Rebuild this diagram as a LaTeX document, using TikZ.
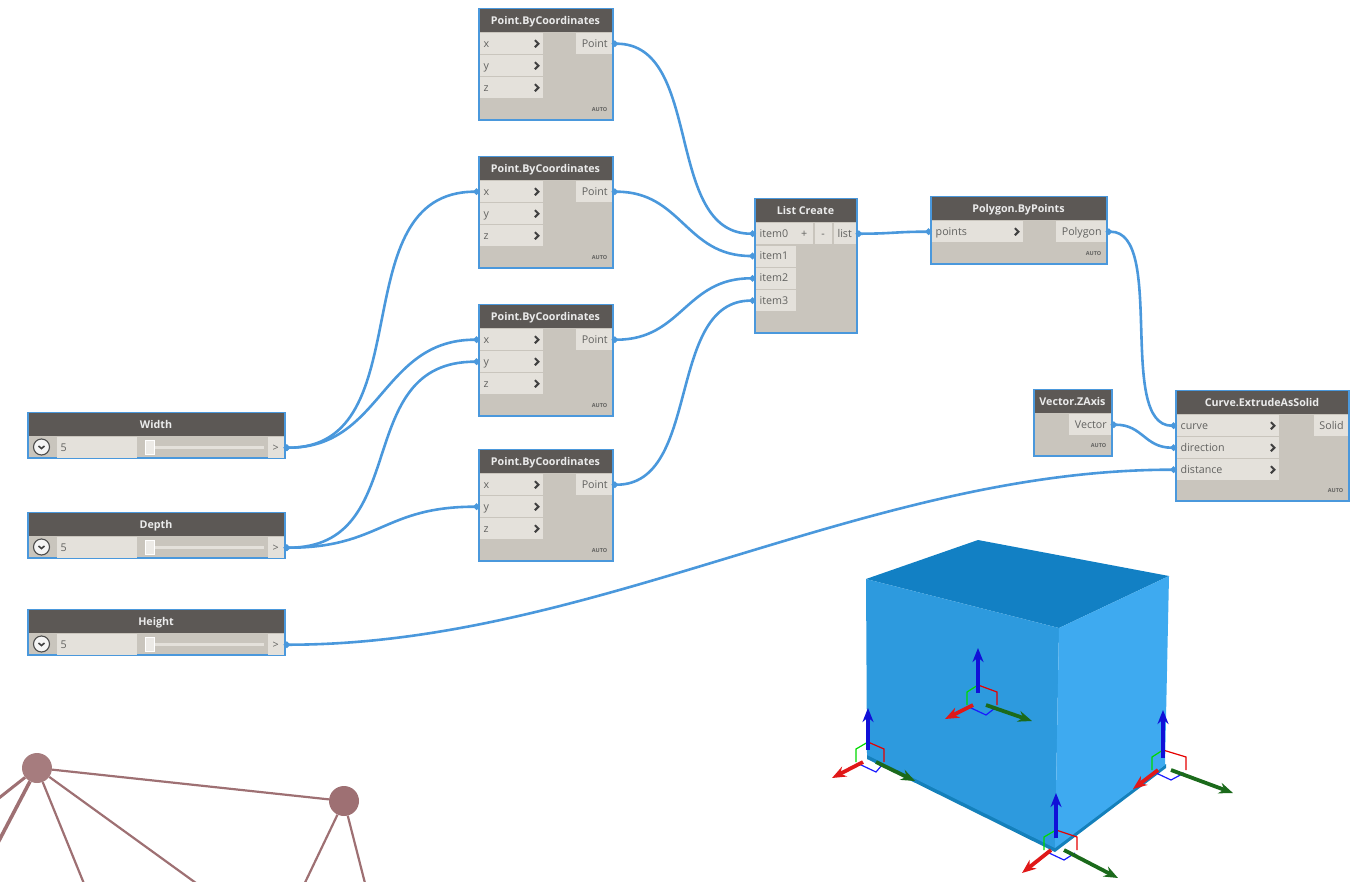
\documentclass[tikz,border=0pt]{standalone}
\usepackage{fontspec}
\setmainfont{Open Sans}
\usetikzlibrary{arrows.meta,calc}
\definecolor{wireblue}{HTML}{4A98DC}
\definecolor{headgray}{HTML}{5C5855}
\definecolor{bodygray}{HTML}{C9C5BD}
\definecolor{portgray}{HTML}{E4E1DB}
\definecolor{textgray}{HTML}{626260}
\definecolor{graphrose}{HTML}{9E7073}
\definecolor{roselight}{HTML}{A67C7E}
\definecolor{cubetop}{HTML}{1280C4}
\definecolor{cubeleft}{HTML}{2D9ADE}
\definecolor{cuberight}{HTML}{3EAAF0}
\definecolor{cubebase}{HTML}{1480BB}
\definecolor{gizmoblue}{HTML}{1010D8}
\definecolor{gizmored}{HTML}{E01818}
\definecolor{gizmogreen}{HTML}{1B6A1B}
\tikzset{
  block/.style={draw=wireblue, fill=bodygray, line width=2pt, anchor=north west, inner sep=0pt},
  head/.style={fill=headgray, text=white!92!black, anchor=north, inner sep=0pt, minimum height=23pt,
    text height=8pt, text depth=1pt, font=\fontsize{10.7}{12}\selectfont\bfseries},
  inport/.style={fill=portgray, text=textgray, anchor=north west, minimum height=21pt, inner ysep=0pt,
    inner xsep=4pt, text width=#1, text height=8pt, text depth=1pt, align=left, font=\fontsize{10.7}{12}\selectfont},
  outport/.style={inport=#1, align=right},
  smallport/.style={fill=portgray, text=textgray, minimum height=21pt, inner sep=0pt, anchor=north west,
    text height=8pt, text depth=1pt, font=\fontsize{10.7}{12}\selectfont},
  auto tag/.style={text=textgray, inner sep=0pt, font=\fontsize{5.5}{6}\selectfont\bfseries},
  chevline/.style={draw=black!75, line width=2pt},
  wire/.style={draw=wireblue, line width=2.6pt, {Circle[length=6pt]}-{Circle[length=6pt]}},
  axis/.style={line width=3.8pt, -{Stealth[length=14pt,width=11pt]}},
  hexline/.style={line width=1.2pt},
  vertex/.style={circle, fill=graphrose, inner sep=0pt, minimum size=30pt},
  edge/.style={draw=graphrose, line width=2.2pt}
}
\newcommand{\chev}[1]{\draw[chevline] ([shift={(-8,-3.5)}]#1.east) -- ++(3.5,3.5) -- ++(-3.5,3.5);}
\begin{document}
\begin{tikzpicture}[x=1pt, y=-1pt]
\clip (0,0) rectangle (1362,881);
\foreach \i/\y in {1/8,2/156,3/304,4/449}{
\node[block, minimum width=134pt, minimum height=111pt] (p\i) at (477.5,\y) {};
\node[head, minimum width=132pt] (p\i-h) at ([yshift=-1pt]p\i.north) {Point.ByCoordinates};
\node[inport=55pt] (p\i-x) at ([shift={(2,25)}]p\i.north west) {x};
\node[inport=55pt] (p\i-y) at ([shift={(2,47)}]p\i.north west) {y};
\node[inport=55pt] (p\i-z) at ([shift={(2,69)}]p\i.north west) {z};
\node[outport=28pt] (p\i-out) at ([shift={(98,25)}]p\i.north west) {Point};
\node[auto tag] (p\i-a) at ([shift={(-14,-11)}]p\i.south east) {AUTO};
\chev{p\i-x} \chev{p\i-y} \chev{p\i-z}
}
\node[block, minimum width=102pt, minimum height=134pt] (lc) at (753.5,198) {};
\node[head, minimum width=100pt] (lc-h) at ([yshift=-1pt]lc.north) {List Create};
\foreach \i in {0,1,2,3}{
\node[inport=32pt] (item\i) at ([shift={(2,25+22.3*\i)}]lc.north west) {item\i};
}
\node[smallport, minimum width=17pt] (lc-plus) at ([shift={(42,25)}]lc.north west) {+};
\node[smallport, minimum width=17pt] (lc-minus) at ([shift={(61,25)}]lc.north west) {-};
\node[smallport, minimum width=22pt] (lc-out) at ([shift={(80,25)}]lc.north west) {list};
\node[block, minimum width=176pt, minimum height=67pt] (pg) at (929.5,196) {};
\node[head, minimum width=174pt] (pg-h) at ([yshift=-1pt]pg.north) {Polygon.ByPoints};
\node[inport=83pt] (pg-in) at ([shift={(2,25)}]pg.north west) {points};
\node[outport=42pt] (pg-out) at ([shift={(126,25)}]pg.north west) {Polygon};
\node[auto tag] (pg-a) at ([shift={(-14,-11)}]pg.south east) {AUTO};
\chev{pg-in}
\node[block, minimum width=78pt, minimum height=66pt] (vz) at (1032.5,389) {};
\node[head, minimum width=76pt] (vz-h) at ([yshift=-1pt]vz.north) {Vector.ZAxis};
\node[outport=34pt] (vz-out) at ([shift={(36,25)}]vz.north west) {Vector};
\node[auto tag] (vz-a) at ([shift={(-14,-11)}]vz.south east) {AUTO};
\node[block, minimum width=173pt, minimum height=110pt] (ce) at (1174.5,390) {};
\node[head, minimum width=171pt] (ce-h) at ([yshift=-1pt]ce.north) {Curve.ExtrudeAsSolid};
\node[inport=94pt] (ce-curve) at ([shift={(2,25)}]ce.north west) {curve};
\node[inport=94pt] (ce-dir) at ([shift={(2,47)}]ce.north west) {direction};
\node[inport=94pt] (ce-dist) at ([shift={(2,69)}]ce.north west) {distance};
\node[outport=26pt] (ce-out) at ([shift={(139,25)}]ce.north west) {Solid};
\node[auto tag] (ce-a) at ([shift={(-14,-11)}]ce.south east) {AUTO};
\chev{ce-curve} \chev{ce-dir} \chev{ce-dist}
\foreach \n/\t/\y in {wd/Width/412,dp/Depth/512,ht/Height/609}{
\node[block, minimum width=257pt, minimum height=45pt] (\n) at (26.5,\y) {};
\node[head, minimum width=255pt] (\n-h) at ([yshift=-1pt]\n.north) {\t};
\node[inport=72pt, minimum height=21pt] (\n-val) at ([shift={(30,25)}]\n.north west) {5};
\node[smallport, minimum width=16pt] (\n-out) at ([shift={(241,25)}]\n.north west) {>};
\node[circle, draw=black!70, fill=white!96!black, line width=1.1pt, minimum size=16pt, inner sep=0pt] (\n-btn) at ([shift={(15,35)}]\n.north west) {};
\draw[line width=1.6pt, black!75] ([shift={(-3,-1)}]\n-btn.center) -- ++(3,2.5) -- ++(3,-2.5);
\draw[line width=2.4pt, portgray] ([shift={(119,35.5)}]\n.north west) -- ([shift={(237,35.5)}]\n.north west);
\node[fill=portgray!70!white, draw=white, line width=.4pt, minimum width=9pt, minimum height=14pt, inner sep=0pt] (\n-knob) at ([shift={(123,35.5)}]\n.north west) {};
}
\foreach \a/\b/\c in {p1-out/item0/92,p2-out/item1/70,p3-out/item2/70,p4-out/item3/90,
  wd-out/p2-x/140,wd-out/p3-x/98,dp-out/p3-y/130,dp-out/p4-y/96,ht-out/ce-dist/310,
  lc-out/pg-in/36,pg-out/ce-curve/60,vz-out/ce-dir/32}{
\draw[wire] (\a.east) .. controls +(\c,0) and +(-\c,0) .. (\b.west);
}
\fill[cubebase] (867,754) -- (1055,847) -- (1166,764) -- (1166,768) -- (1055,852) -- (867,759) -- cycle;
\fill[cubetop] (978,540) -- (1169,576) -- (1059,628) -- (866,579) -- cycle;
\fill[cubeleft] (866,579) -- (1059,628) -- (1055,848) -- (867,755) -- cycle;
\fill[cuberight] (1059,628) -- (1169,576) -- (1165,765) -- (1055,848) -- cycle;
\foreach \ox/\oy/\bl/\rx/\ry/\gx/\gy/\hl/\hr in {978/693/45/-33/26/54/28/11/19,868/750/42/-36/28/47/31/12/16,
  1056/838/45/-34/35/62/40/12/21,1163/758/48/-30/31/70/35/11/23}{
\begin{scope}[shift={(\ox,\oy)}]
\draw[hexline, green!85!black] (0,-8) -- (-\hl,-1) -- (-\hl,12);
\draw[hexline, red!90!black] (0,-8) -- (\hr,-1) -- (\hr,12);
\draw[hexline, blue!90!white] (-9,14) -- (8,22) -- (\hr-2,15);
\draw[axis, gizmoblue] (0,0) -- (0,-\bl);
\draw[axis, gizmored] (-5,12) -- (\rx,\ry);
\draw[axis, gizmogreen] (8,12) -- (\gx,\gy);
\end{scope}
}
\coordinate (e1) at (-20,813);
\coordinate (e2) at (-20,877);
\coordinate (e3) at (87,891);
\coordinate (e4) at (207,891);
\coordinate (e5) at (301,891);
\coordinate (e6) at (367,891);
\node[vertex, fill=roselight] (v1) at (37,768) {};
\node[vertex] (v2) at (344,801) {};
\draw[edge] (v1) -- (v2);
\draw[edge, line width=3pt] (v1) -- (e1);
\draw[edge, line width=3.6pt] (v1) -- (e2);
\foreach \e in {e3,e4}{\draw[edge] (v1) -- (\e);}
\foreach \e in {e5,e6}{\draw[edge] (v2) -- (\e);}
\end{tikzpicture}
\end{document}
